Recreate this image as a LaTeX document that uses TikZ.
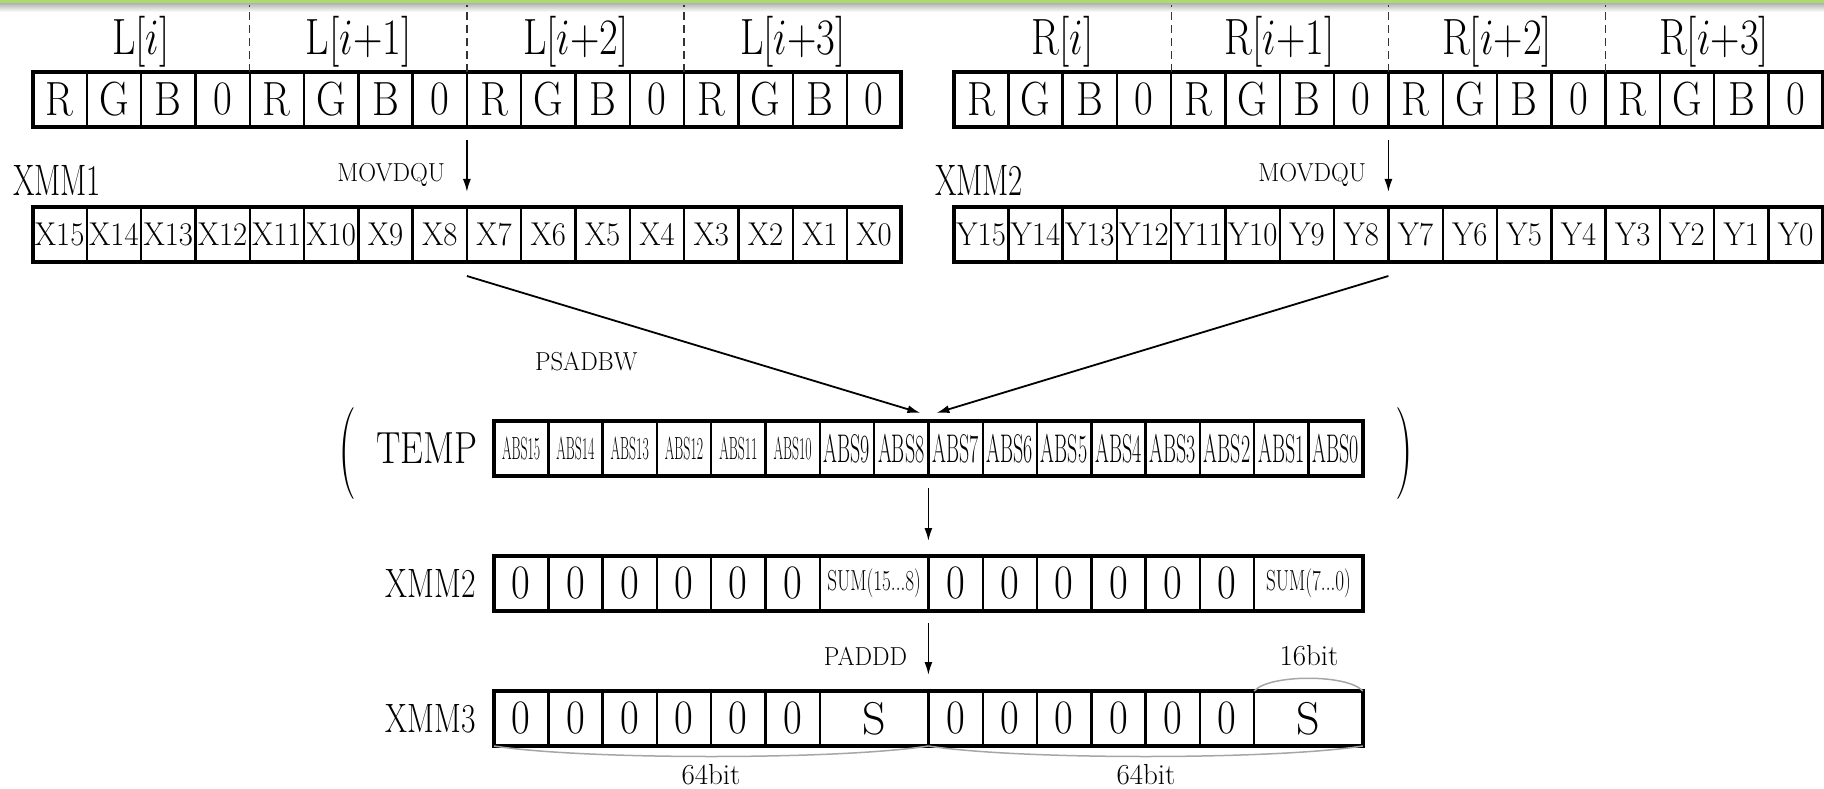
\documentclass[tikz,border=0pt]{standalone}
\usepackage{fix-cm}
\usepackage{graphicx}
\usetikzlibrary{arrows.meta,calc}

% font size, horizontal squeeze, text
\newcommand\fz[3]{{\fontsize{#1}{#1}\selectfont\scalebox{#2}[1]{#3}}}

\definecolor{barGreen}{RGB}{172,218,108}

\tikzset{
  cell/.style={draw, line width=2.4pt, minimum width=54.3pt, minimum height=55pt,
               inner sep=0pt, outer sep=0pt, anchor=north west},
  wcell/.style={cell, minimum width=108.6pt},
  rowframe/.style={line width=4pt},
  arr/.style={line width=1.8pt, -{Latex[length=13pt,width=8pt]}},
  tag/.style={inner sep=0pt, outer sep=0pt, anchor=base},
  sep/.style={line width=1.4pt, gray!40!black, dash pattern=on 8pt off 5pt},
  brace/.style={line width=1.5pt, gray!70}
}

\begin{document}
\begin{tikzpicture}[x=1pt, y=-1pt]
\useasboundingbox (0,0) rectangle (1824,789);

% header strip
\fill[barGreen] (0,0) rectangle (1824,4);
\shade[top color=gray!55, bottom color=white] (0,4) rectangle (1824,12);
\coordinate (top) at (0,5);

% ---------- left pixels ----------
\foreach \t [count=\k] in {R,G,B,0,R,G,B,0,R,G,B,0,R,G,B,0}
  \node[cell] (L\k) at ({32.5+54.3*(\k-1)},72) {\fz{48}{0.85}{\t}};
\draw[rowframe] (L1.north west) rectangle (L16.south east);

\foreach \n [count=\k] in {15,14,13,12,11,10,9,8,7,6,5,4,3,2,1,0}
  \node[cell] (X\k) at ({32.5+54.3*(\k-1)},207) {\fz{33}{0.93}{X\n}};
\draw[rowframe] (X1.north west) rectangle (X16.south east);

% ---------- right pixels ----------
\foreach \t [count=\k] in {R,G,B,0,R,G,B,0,R,G,B,0,R,G,B,0}
  \node[cell] (R\k) at ({954+54.3*(\k-1)},72) {\fz{48}{0.85}{\t}};
\draw[rowframe] (R1.north west) rectangle (R16.south east);

\foreach \n [count=\k] in {15,14,13,12,11,10,9,8,7,6,5,4,3,2,1,0}
  \node[cell] (Y\k) at ({954+54.3*(\k-1)},207) {\fz{33}{0.93}{Y\n}};
\draw[rowframe] (Y1.north west) rectangle (Y16.south east);

% group separators and labels
\foreach \r in {L,R} {
  \foreach \c in {4,8,12}
    \draw[sep] (\r\c.north east) -- (\r\c.north east |- top);
}
\node[tag] (li0) at (141,55)   {\fz{51}{0.8}{L[$i$]}};
\node[tag] (li1) at (358.7,55) {\fz{51}{0.8}{L[$i$+1]}};
\node[tag] (li2) at (576,55)   {\fz{51}{0.8}{L[$i$+2]}};
\node[tag] (li3) at (793,55)   {\fz{51}{0.8}{L[$i$+3]}};
\node[tag] (ri0) at (1062.6,55) {\fz{51}{0.8}{R[$i$]}};
\node[tag] (ri1) at (1279.8,55) {\fz{51}{0.8}{R[$i$+1]}};
\node[tag] (ri2) at (1497,55)   {\fz{51}{0.8}{R[$i$+2]}};
\node[tag] (ri3) at (1714,55)   {\fz{51}{0.8}{R[$i$+3]}};

\node[tag, anchor=base west] (xmmA) at (13,195)  {\fz{44}{0.70}{XMM1}};
\node[tag, anchor=base west] (xmmB) at (935,195) {\fz{44}{0.70}{XMM2}};
\node[tag, anchor=base east] (movL) at (445,182)  {\fz{26}{0.95}{MOVDQU}};
\node[tag, anchor=base east] (movR) at (1366,182) {\fz{26}{0.95}{MOVDQU}};

\draw[arr, shorten <=13pt, shorten >=15pt] (L8.south east) -- (X8.north east);
\draw[arr, shorten <=13pt, shorten >=15pt] (R8.south east) -- (Y8.north east);

% ---------- TEMP ----------
\foreach \n [count=\k] in {15,14,13,12,11,10}
  \node[cell] (T\k) at ({494+54.3*(\k-1)},421) {\fz{32}{0.43}{ABS\n}};
\foreach \n [count=\k from 7] in {9,8,7,6,5,4,3,2,1,0}
  \node[cell] (T\k) at ({494+54.3*(\k-1)},421) {\fz{40}{0.5}{ABS\n}};
\draw[rowframe] (T1.north west) rectangle (T16.south east);

\node[tag] (tmp) at (427,463) {\fz{45}{0.81}{TEMP}};
\node[inner sep=0pt] (lp) at (347,454) {\fz{92}{0.55}{(}};
\node[inner sep=0pt] (rp) at (1404,454) {\fz{92}{0.55}{)}};
\node[tag, anchor=base west] (psad) at (535,370) {\fz{26}{0.95}{PSADBW}};

\draw[arr] ($(X8.south east)+(0,14)$) -- ($(T8.north east)+(-8,-8)$);
\draw[arr] ($(Y8.south east)+(0,14)$) -- ($(T8.north east)+(8,-8)$);

% ---------- XMM2 ----------
\foreach \k in {1,...,6}
  \node[cell] (V\k) at ({494+54.3*(\k-1)},556) {\fz{48}{0.85}{0}};
\node[wcell] (V7) at (V6.north east) {\fz{29}{0.66}{SUM(15...8)}};
\foreach \k in {8,...,13}
  \node[cell] (V\k) at ({494+54.3*(\k)},556) {\fz{48}{0.85}{0}};
\node[wcell] (V14) at (V13.north east) {\fz{29}{0.66}{SUM(7...0)}};
\draw[rowframe] (V1.north west) rectangle (V14.south east);
\node[tag, anchor=base east] (xmmC) at (476,597.5) {\fz{41}{0.77}{XMM2}};

\draw[arr, shorten <=12pt, shorten >=15pt] (T8.south east) -- (V7.north east);

% ---------- XMM3 ----------
\foreach \k in {1,...,6}
  \node[cell] (W\k) at ({494+54.3*(\k-1)},691) {\fz{48}{0.85}{0}};
\node[wcell] (W7) at (W6.north east) {\fz{46}{1}{S}};
\foreach \k in {8,...,13}
  \node[cell] (W\k) at ({494+54.3*(\k)},691) {\fz{48}{0.85}{0}};
\node[wcell] (W14) at (W13.north east) {\fz{46}{1}{S}};
\draw[rowframe] (W1.north west) rectangle (W14.south east);
\node[tag, anchor=base east] (xmmD) at (476,732.5) {\fz{41}{0.77}{XMM3}};

\draw[arr, shorten <=12pt, shorten >=16pt] (V7.south east) -- (W7.north east);
\node[tag, anchor=base east] (padd) at (907,665) {\fz{26}{0.95}{PADDD}};

% widths
\draw[brace] (W14.north west) .. controls +(15,-17) and +(-15,-17) .. (W14.north east);
\node[tag] (b16) at (1309,665) {\fz{29}{1}{16bit}};
\draw[brace] (W1.south west) .. controls +(90,14) and +(-90,14) .. (W7.south east);
\draw[brace] (W8.south west) .. controls +(90,14) and +(-90,14) .. (W14.south east);
\node[tag] (b64a) at (711,784)  {\fz{29}{1}{64bit}};
\node[tag] (b64b) at (1146,784) {\fz{29}{1}{64bit}};
\end{tikzpicture}
\end{document}
